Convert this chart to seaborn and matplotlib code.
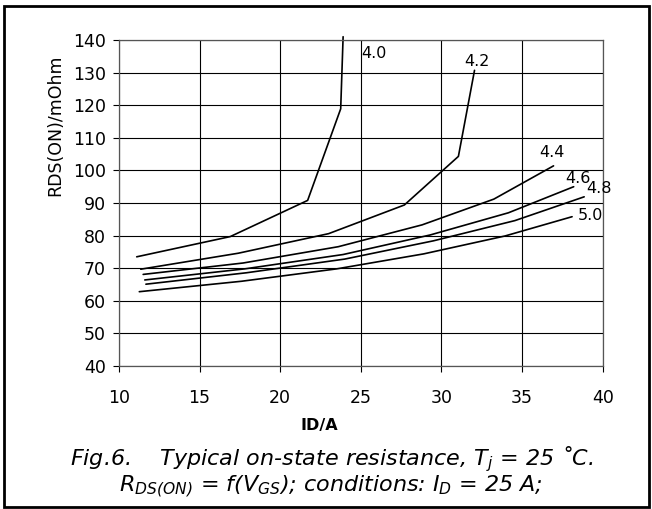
import pandas as pd
import matplotlib.pyplot as plt
import seaborn as sns
from matplotlib.patches import Rectangle

# RDS(ON) vs ID curves, one per VGS
vgs_labels = ["4.0", "4.2", "4.4", "4.6", "4.8", "5.0"]

id_40 = [11.1, 16.9, 21.7, 23.75, 23.9]
rds_40 = [73.5, 79.7, 90.8, 118.9, 141.0]

id_42 = [11.35, 17.4, 23.0, 27.7, 31.05, 32.05]
rds_42 = [69.7, 74.6, 80.6, 89.4, 104.3, 130.7]

id_44 = [11.5, 17.7, 23.6, 28.8, 33.25, 36.95]
rds_44 = [68.1, 71.6, 76.6, 83.3, 91.2, 101.4]

id_46 = [11.6, 17.8, 23.9, 29.3, 34.15, 38.2]
rds_46 = [66.4, 69.8, 74.2, 80.2, 87.0, 95.0]

id_48 = [11.67, 17.9, 24.0, 29.5, 34.55, 38.85]
rds_48 = [65.1, 68.6, 72.8, 78.4, 84.6, 91.9]

id_50 = [11.26, 17.6, 23.5, 28.9, 33.95, 38.1]
rds_50 = [62.8, 66.0, 69.8, 74.4, 79.9, 85.8]

# where the VGS labels sit (left edge, vertical centre)
label_x = [25.0, 31.4, 36.05, 37.7, 39.0, 38.45]
label_y = [136.0, 133.3, 105.6, 97.6, 94.3, 86.1]

curves = [(id_40, rds_40), (id_42, rds_42), (id_44, rds_44),
          (id_46, rds_46), (id_48, rds_48), (id_50, rds_50)]

rows = []
for v, (xs, ys) in zip(vgs_labels, curves):
    for i, (x, y) in enumerate(zip(xs, ys)):
        rows.append({"vgs": v, "order": i, "ID": x, "RDS": y})
df = pd.DataFrame(rows)

sns.set_style("white")
plt.rcParams['font.family'] = ['DejaVu Sans']
plt.rcParams['mathtext.fontset'] = 'custom'
plt.rcParams['mathtext.rm'] = 'DejaVu Sans:italic'
plt.rcParams['mathtext.it'] = 'DejaVu Sans:italic'
plt.rcParams['text.color'] = 'black'
plt.rcParams['axes.labelcolor'] = 'black'
plt.rcParams['xtick.color'] = 'black'
plt.rcParams['ytick.color'] = 'black'

fig = plt.figure(figsize=(6.52, 5.09), dpi=100)
ax = fig.add_axes([0.1825, 0.2809, 0.7419, 0.6405])

sns.lineplot(data=df, x="ID", y="RDS", hue="vgs", units="vgs", estimator=None,
             sort=False, palette=["black"] * len(vgs_labels), linewidth=1.2,
             legend=False, ax=ax)
for ln in ax.lines:
    ln.set_clip_on(False)

for t, x, y in zip(vgs_labels, label_x, label_y):
    ax.text(x, y, t, ha="left", va="center", fontsize=11.5)

ax.set_xlim(10, 40)
ax.set_ylim(40, 140)
ax.set_xticks(range(10, 41, 5))
ax.set_yticks(range(40, 141, 10))
ax.grid(True, color="black", linewidth=0.8)
ax.set_axisbelow(True)
for s in ax.spines.values():
    s.set_color("#555555")
    s.set_linewidth(0.9)
ax.tick_params(axis="both", direction="out", length=4.5, width=0.8,
               color="black", labelcolor="black", labelsize=12.5)
ax.tick_params(axis="x", pad=12)
ax.tick_params(axis="y", pad=5)
ax.tick_params(left=True, bottom=True)

ax.set_xlabel("ID/A", fontsize=11.5, fontweight="bold")
ax.xaxis.set_label_coords(0.415, -0.158)
ax.set_ylabel("RDS(ON)/mOhm", fontsize=12.5)
ax.yaxis.set_label_coords(-0.114, 0.74)

fig.text(0.508, 0.0865, r"Fig.6.    Typical on-state resistance, $T_j$ = 25 ˚C.",
         ha="center", va="baseline", fontsize=16, style="italic")
fig.text(0.508, 0.034, r"$R_{DS(ON)}$ = f($V_{GS}$); conditions: $I_D$ = 25 A;",
         ha="center", va="baseline", fontsize=16, style="italic")

fig.patches.append(Rectangle((0.006, 0.004), 0.99, 0.984, transform=fig.transFigure,
                             fill=False, edgecolor="black", linewidth=2))

fig.savefig("out.png", dpi=100)
